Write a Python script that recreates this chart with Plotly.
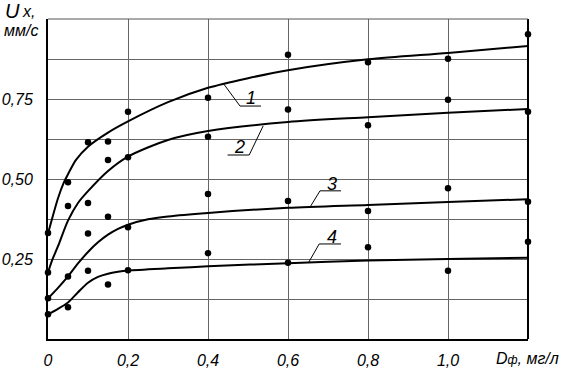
import plotly.graph_objects as go

# ---- data ----
x_pts = [0, 0.05, 0.10, 0.15, 0.20, 0.40, 0.60, 0.80, 1.00, 1.20]
s1_pts = [0.331, 0.490, 0.615, 0.617, 0.710, 0.754, 0.888, 0.865, 0.876, 0.952]
s2_pts = [0.208, 0.416, 0.425, 0.559, 0.568, 0.632, 0.717, 0.668, 0.748, 0.710]
s3_pts = [0.127, 0.195, 0.330, 0.382, 0.349, 0.453, 0.431, 0.400, 0.471, 0.429]
s4_pts = [0.077, 0.099, 0.213, 0.170, 0.215, 0.268, 0.238, 0.287, 0.213, 0.304]

c1_x = [0, 0.01, 0.025, 0.04, 0.05, 0.07, 0.10, 0.15, 0.20, 0.30, 0.40, 0.50, 0.60, 0.80, 1.00, 1.20]
c1_y = [0.330, 0.375, 0.440, 0.490, 0.515, 0.560, 0.601, 0.645, 0.680, 0.740, 0.785, 0.815, 0.840, 0.874, 0.894, 0.916]
c2_x = [0, 0.01, 0.025, 0.05, 0.075, 0.10, 0.15, 0.20, 0.30, 0.40, 0.60, 0.80, 1.00, 1.20]
c2_y = [0.208, 0.245, 0.290, 0.370, 0.425, 0.462, 0.525, 0.570, 0.622, 0.650, 0.678, 0.693, 0.707, 0.719]
c3_x = [0, 0.025, 0.05, 0.075, 0.10, 0.125, 0.15, 0.175, 0.20, 0.25, 0.30, 0.40, 0.60, 0.80, 1.00, 1.20]
c3_y = [0.127, 0.160, 0.196, 0.236, 0.272, 0.302, 0.326, 0.344, 0.357, 0.374, 0.383, 0.394, 0.410, 0.419, 0.428, 0.437]
c4_x = [0, 0.025, 0.05, 0.075, 0.10, 0.125, 0.15, 0.175, 0.20, 0.30, 0.40, 0.60, 0.80, 1.00, 1.20]
c4_y = [0.077, 0.094, 0.114, 0.146, 0.176, 0.194, 0.204, 0.210, 0.214, 0.221, 0.227, 0.237, 0.245, 0.250, 0.254]

x_ticks = [0, 0.2, 0.4, 0.6, 0.8, 1.0, 1.2]
x_ticktext = ['0', '0,2', '0,4', '0,6', '0,8', '1,0', '']
y_ticks = [0, 0.125, 0.25, 0.375, 0.5, 0.625, 0.75, 0.875, 1.0]
y_ticktext = ['', '', '0,25', '', '0,50', '', '0,75', '', '']

curve_labels = ['1', '2', '3', '4']
label_pos = [(0.507, 0.753), (0.479, 0.599), (0.709, 0.483), (0.709, 0.319)]
leaders = [
    [(0.4375, 0.800), (0.480, 0.728), (0.5325, 0.728)],
    [(0.538, 0.666), (0.503, 0.575), (0.449, 0.575)],
    [(0.655, 0.412), (0.680, 0.463), (0.7325, 0.463)],
    [(0.651, 0.238), (0.678, 0.297), (0.7325, 0.297)],
]

FONT = 'Liberation Sans, Arial, sans-serif'
W, H, L, T, R, B = 563, 369, 48, 19, 35, 30


def px2paper(px, py):
    return (px - L) / (W - L - R), (H - B - py) / (H - T - B)


fig = go.Figure()
for cx, cy in [(c1_x, c1_y), (c2_x, c2_y), (c3_x, c3_y), (c4_x, c4_y)]:
    fig.add_trace(go.Scatter(x=cx, y=cy, mode='lines',
                             line=dict(color='black', width=2, shape='spline', smoothing=0.8),
                             hoverinfo='skip', showlegend=False))
for sy in [s1_pts, s2_pts, s3_pts, s4_pts]:
    fig.add_trace(go.Scatter(x=x_pts, y=sy, mode='markers',
                             marker=dict(color='black', size=6.5),
                             cliponaxis=False, showlegend=False))

shapes = []
for pts in leaders:
    path = 'M {} {}'.format(*pts[0]) + ''.join(' L {} {}'.format(*p) for p in pts[1:])
    shapes.append(dict(type='path', path=path, xref='x', yref='y',
                       line=dict(color='black', width=1)))
shapes.append(dict(type='line', xref='x domain', yref='y domain', x0=1, x1=1, y0=0, y1=1,
                   line=dict(color='black', width=2)))
shapes.append(dict(type='line', xref='x domain', yref='y domain', x0=0, x1=1, y0=1, y1=1,
                   line=dict(color='#555', width=1)))

annotations = []
for lab, (lx, ly) in zip(curve_labels, label_pos):
    annotations.append(dict(x=lx, y=ly, xref='x', yref='y', text=lab, showarrow=False,
                            font=dict(family=FONT, size=18, color='black', style='italic'),
                            xanchor='center', yanchor='middle'))

ux, uy = px2paper(3, 11)
annotations.append(dict(x=ux, y=uy, xref='paper', yref='paper', text='U', showarrow=False,
                        xanchor='left', yanchor='middle',
                        font=dict(family=FONT, size=20, color='black', style='italic')))
hx, hy = px2paper(20, 11)
annotations.append(dict(x=hx, y=hy, xref='paper', yref='paper', text='х,', showarrow=False,
                        xanchor='left', yanchor='middle',
                        font=dict(family=FONT, size=16, color='black', style='italic')))
mx, my = px2paper(2, 31)
annotations.append(dict(x=mx, y=my, xref='paper', yref='paper', text='мм/с', showarrow=False,
                        xanchor='left', yanchor='middle',
                        font=dict(family=FONT, size=16, color='black', style='italic')))
dx, dy = px2paper(494, 358)
annotations.append(dict(x=dx, y=dy, xref='paper', yref='paper',
                        text="D<span style='font-size:12px'>ф</span>, мг/л", showarrow=False,
                        xanchor='left', yanchor='middle',
                        font=dict(family=FONT, size=16, color='black', style='italic')))

fig.update_layout(
    width=W, height=H,
    margin=dict(l=L, r=R, t=T, b=B, autoexpand=False),
    paper_bgcolor='white', plot_bgcolor='white',
    shapes=shapes, annotations=annotations,
    xaxis=dict(range=[0, 1.2], tickvals=x_ticks, ticktext=x_ticktext, automargin=False,
               showgrid=True, gridcolor='#666', gridwidth=1,
               showline=True, linecolor='black', linewidth=2, zeroline=False,
               ticks='', ticklabelstandoff=6,
               tickfont=dict(family=FONT, size=16, color='black', style='italic')),
    yaxis=dict(range=[0, 1.0], tickvals=y_ticks, ticktext=y_ticktext, automargin=False,
               showgrid=True, gridcolor='#666', gridwidth=1,
               showline=True, linecolor='black', linewidth=2, zeroline=False,
               ticks='', ticklabelstandoff=10,
               tickfont=dict(family=FONT, size=16, color='black', style='italic')),
)

fig.write_html('out.html', config={'displayModeBar': False},
               post_script="document.body.style.margin='0';document.body.style.overflow='hidden';")
